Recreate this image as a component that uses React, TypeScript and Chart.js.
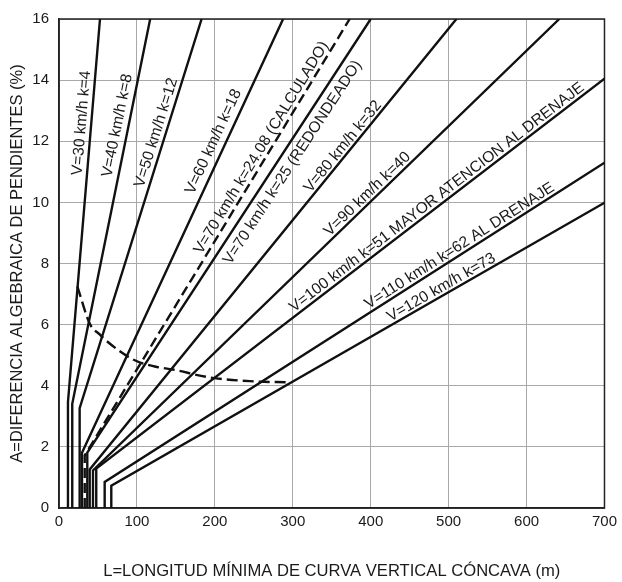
import React, { useEffect, useRef } from 'react';
import { Chart, registerables } from 'chart.js';

Chart.register(...registerables);

// ---- Data ----
const seriesNames = [
  'V=30 km/h k=4',
  'V=40 km/h k=8',
  'V=50 km/h k=12',
  'V=60 km/h k=18',
  'V=70 km/h k=24.08 (CALCULADO)',
  'V=70 km/h k=25 (REDONDEADO)',
  'V=80 km/h k=32',
  'V=90 km/h k=40',
  'V=100 km/h k=51 MAYOR ATENCION AL DRENAJE',
  'V=110 km/h k=62 AL DRENAJE',
  'V=120 km/h k=73',
];
// minimum length (vertical part), m
const minLength = [11.5, 17, 26.5, 29.5, 33, 36.3, 39.4, 43.6, 47.8, 58.6, 67.1];
// A where the vertical part meets the inclined line, %
const kneeA = [3.47, 3.41, 3.27, 1.81, 1.72, 1.81, 1.26, 1.23, 1.29, 0.85, 0.73];
// end of each inclined line
const endL = [52.6, 117, 183, 287.6, 373, 400, 510, 642, 700, 700, 700];
const endA = [16, 16, 16, 16, 16, 16, 16, 16, 14.05, 11.3, 9.99];
const isDashed = [false, false, false, false, true, false, false, false, false, false, false];

// dashed curve of minimum length
const curveL = [23.5, 39.7, 52.6, 59, 95, 123, 146, 194, 245, 296];
const curveA = [7.25, 6.02, 5.67, 5.51, 4.86, 4.63, 4.53, 4.27, 4.15, 4.11];

const xTicks = [0, 100, 200, 300, 400, 500, 600, 700];
const yTicks = [0, 2, 4, 6, 8, 10, 12, 14, 16];

// label placement along each line (A of label centre, perpendicular offset px)
const labelAnchorA = [12.57, 12.44, 12.19, 11.83, 11.64, 11.54, 11.67, 10.09, 9.96, 8.36, 7.0];
const labelOffset = [9.6, 11, 9.3, 11.5, 8.7, -13, 7.5, 7.7, 7.8, 7.9, 7.6];

const FONT = "'Liberation Sans', Arial, Helvetica, sans-serif";

const framePlugin = {
  id: 'frame',
  beforeDatasetsDraw(chart: any) {
    const { ctx, chartArea } = chart;
    ctx.save();
    ctx.strokeStyle = '#222';
    ctx.lineWidth = 1.5;
    ctx.strokeRect(chartArea.left, chartArea.top, chartArea.right - chartArea.left, chartArea.bottom - chartArea.top);
    ctx.restore();
  },
};

const lineLabelPlugin = {
  id: 'lineLabels',
  afterDatasetsDraw(chart: any) {
    const { ctx } = chart;
    const xs = chart.scales.x;
    const ys = chart.scales.y;
    ctx.save();
    ctx.font = `15.6px ${FONT}`;
    ctx.fillStyle = '#1a1a1a';
    ctx.textAlign = 'center';
    ctx.textBaseline = 'middle';
    seriesNames.forEach((text, i) => {
      const kx = xs.getPixelForValue(minLength[i]);
      const ky = ys.getPixelForValue(kneeA[i]);
      const ex = xs.getPixelForValue(endL[i]);
      const ey = ys.getPixelForValue(endA[i]);
      const t = (labelAnchorA[i] - kneeA[i]) / (endA[i] - kneeA[i]);
      const L = minLength[i] + t * (endL[i] - minLength[i]);
      const px = xs.getPixelForValue(L);
      const py = ys.getPixelForValue(labelAnchorA[i]);
      let ux = ex - kx;
      let uy = ey - ky;
      const len = Math.hypot(ux, uy);
      ux /= len;
      uy /= len;
      const nx = uy;
      const ny = -ux;
      const cx = px + labelOffset[i] * nx;
      const cy = py + labelOffset[i] * ny;
      ctx.save();
      ctx.translate(cx, cy);
      ctx.rotate(Math.atan2(uy, ux));
      ctx.fillText(text, 0, 0);
      ctx.restore();
    });
    ctx.restore();
  },
};

const App = () => {
  const ref = useRef<HTMLCanvasElement>(null);

  useEffect(() => {
    document.body.style.margin = '0';
    if (!ref.current) return;
    Chart.defaults.font.family = FONT;
    Chart.defaults.color = '#1a1a1a';

    const datasets: any[] = seriesNames.map((name, i) => ({
      label: name,
      data: [
        { x: minLength[i], y: 0 },
        { x: minLength[i], y: kneeA[i] },
        { x: endL[i], y: endA[i] },
      ],
      borderColor: '#111',
      borderWidth: 2.4,
      borderDash: isDashed[i] ? [10, 5] : [],
      pointRadius: 0,
      tension: 0,
      fill: false,
    }));
    datasets.push({
      label: 'Longitud mínima',
      data: curveL.map((x, i) => ({ x, y: curveA[i] })),
      borderColor: '#111',
      borderWidth: 2.4,
      borderDash: [11, 5],
      pointRadius: 0,
      cubicInterpolationMode: 'monotone',
      fill: false,
    });

    const chart = new Chart(ref.current, {
      type: 'line',
      data: { datasets },
      options: {
        animation: false,
        responsive: false,
        maintainAspectRatio: false,
        events: [],
        plugins: { legend: { display: false }, tooltip: { enabled: false } },
        layout: { padding: { top: 14, right: 17, left: 0, bottom: 0 } },
        scales: {
          x: {
            type: 'linear',
            min: 0,
            max: 700,
            afterBuildTicks: (s: any) => { s.ticks = xTicks.map((v) => ({ value: v })); },
            afterFit: (s: any) => { s.height = 74; },
            ticks: { padding: 5, font: { size: 15 }, color: '#1a1a1a' },
            grid: { color: '#a8a8a8', lineWidth: 1, drawTicks: false },
            border: { color: '#222', width: 1.5 },
            title: {
              display: true,
              text: 'L=LONGITUD MÍNIMA DE CURVA VERTICAL CÓNCAVA (m)',
              font: { size: 16.6 },
              color: '#1a1a1a',
              padding: { top: 0, bottom: 1 },
            },
          },
          y: {
            type: 'linear',
            min: 0,
            max: 16,
            afterBuildTicks: (s: any) => { s.ticks = yTicks.map((v) => ({ value: v })); },
            afterFit: (s: any) => { s.width = 59; },
            ticks: { padding: 10, font: { size: 15 }, color: '#1a1a1a' },
            grid: { color: '#a8a8a8', lineWidth: 1, drawTicks: false },
            border: { color: '#222', width: 1.5 },
            title: {
              display: true,
              text: 'A=DIFERENCIA ALGEBRAICA DE PENDIENTES (%)',
              font: { size: 16.5 },
              color: '#1a1a1a',
              padding: { top: 8, bottom: 0 },
            },
          },
        },
      },
      plugins: [framePlugin, lineLabelPlugin],
    } as any);

    return () => chart.destroy();
  }, []);

  return (
    <div style={{ position: 'fixed', left: 0, top: 0, width: 622, height: 582, background: '#fff' }}>
      <canvas ref={ref} width={622} height={582} style={{ width: 622, height: 582, display: 'block' }} />
    </div>
  );
};

export default App;
